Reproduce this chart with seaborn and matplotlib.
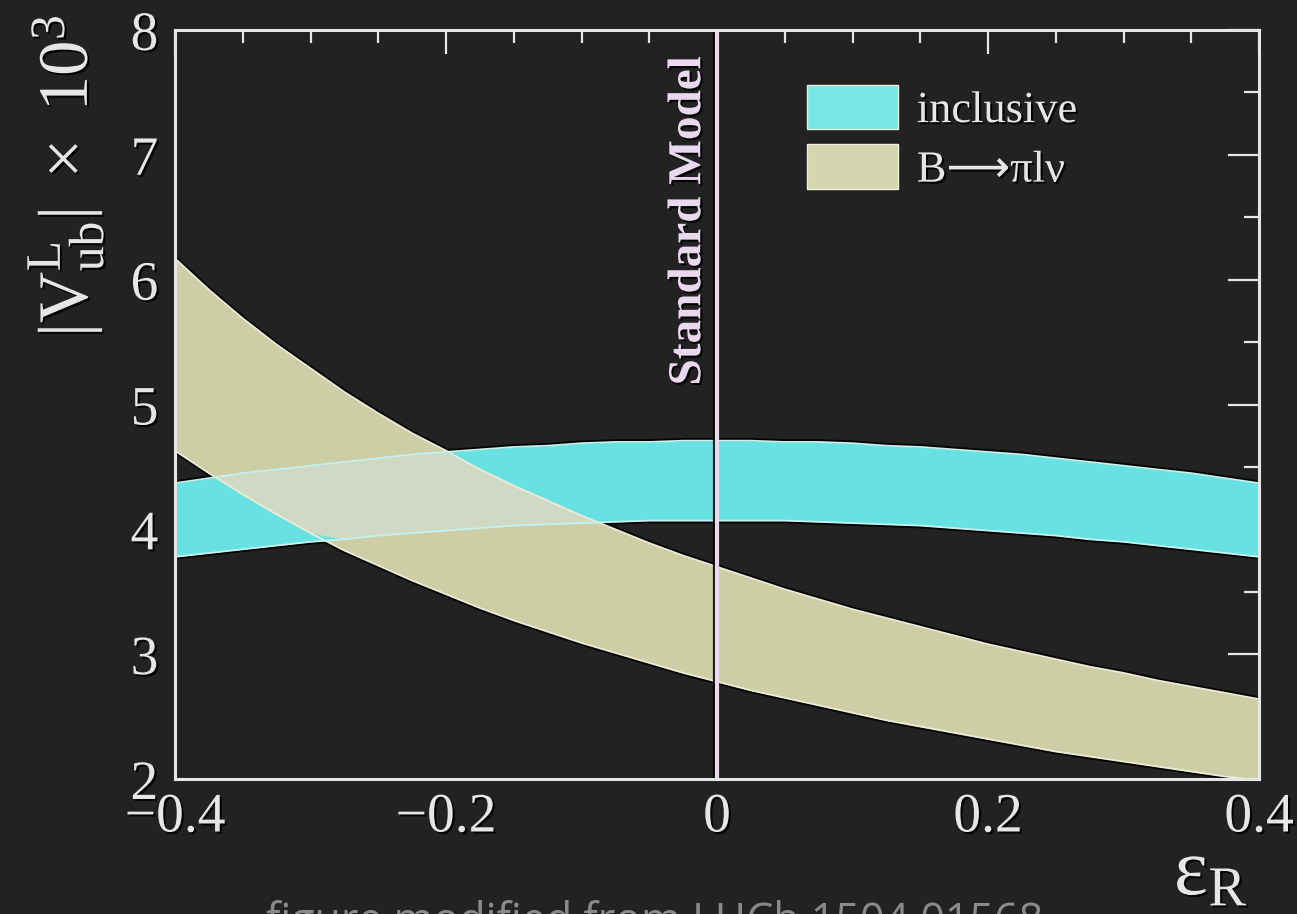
import numpy as np
import pandas as pd
import matplotlib
matplotlib.use("Agg")
import matplotlib.pyplot as plt
import matplotlib.patheffects as pe
from matplotlib.ticker import MultipleLocator
import seaborn as sns

# values
eps_r = [-0.4, -0.375, -0.35, -0.325, -0.3, -0.275, -0.25, -0.225, -0.2, -0.175,
         -0.15, -0.125, -0.1, -0.075, -0.05, -0.025, 0.0, 0.025, 0.05, 0.075,
         0.1, 0.125, 0.15, 0.175, 0.2, 0.225, 0.25, 0.275, 0.3, 0.325, 0.35, 0.375, 0.4]
incl_lo = [3.78, 3.81, 3.84, 3.87, 3.90, 3.92, 3.95, 3.97, 3.99, 4.01,
           4.03, 4.04, 4.05, 4.06, 4.07, 4.07, 4.07, 4.07, 4.07, 4.06,
           4.05, 4.04, 4.03, 4.01, 3.99, 3.97, 3.95, 3.92, 3.90, 3.87, 3.84, 3.81, 3.78]
incl_hi = [4.37, 4.41, 4.45, 4.48, 4.51, 4.54, 4.57, 4.60, 4.62, 4.64,
           4.66, 4.67, 4.69, 4.70, 4.70, 4.71, 4.71, 4.71, 4.70, 4.70,
           4.69, 4.67, 4.66, 4.64, 4.62, 4.60, 4.57, 4.54, 4.51, 4.48, 4.45, 4.41, 4.37]
bpi_lo = [4.63, 4.45, 4.28, 4.12, 3.97, 3.83, 3.71, 3.59, 3.48, 3.37,
          3.27, 3.18, 3.09, 3.01, 2.93, 2.85, 2.78, 2.71, 2.65, 2.59,
          2.53, 2.47, 2.42, 2.37, 2.32, 2.27, 2.22, 2.18, 2.14, 2.10, 2.06, 2.02, 1.99]
bpi_hi = [6.17, 5.92, 5.69, 5.48, 5.29, 5.10, 4.93, 4.77, 4.63, 4.48,
          4.35, 4.23, 4.11, 4.00, 3.89, 3.79, 3.70, 3.61, 3.52, 3.44,
          3.36, 3.29, 3.22, 3.15, 3.08, 3.02, 2.96, 2.90, 2.85, 2.79, 2.74, 2.69, 2.64]
x_ticks = [-0.4, -0.2, 0.0, 0.2, 0.4]
x_ticklabels = ["\u22120.4", "\u22120.2", "0", "0.2", "0.4"]
y_ticks = [2, 3, 4, 5, 6, 7, 8]

bg = "#222222"
fg = "#e6e6e6"
cyan = "#67e1e1"
beige = "#cdcda6"
overlap = "#cfd9c4"

sns.set_theme(style="dark", rc={"figure.facecolor": bg, "axes.facecolor": bg,
                                "savefig.facecolor": bg, "axes.edgecolor": fg,
                                "text.color": fg, "xtick.color": fg, "ytick.color": fg})
plt.rcParams["font.family"] = ["Liberation Serif", "DejaVu Sans"]
plt.rcParams["mathtext.fontset"] = "custom"
plt.rcParams["mathtext.rm"] = "Liberation Serif"
plt.rcParams["mathtext.it"] = "Liberation Serif:italic"
plt.rcParams["mathtext.bf"] = "Liberation Serif:bold"

df = pd.DataFrame({"eps": eps_r, "incl_lo": incl_lo, "incl_hi": incl_hi,
                   "bpi_lo": bpi_lo, "bpi_hi": bpi_hi})

fig = plt.figure(figsize=(12.97, 9.14), dpi=100)
ax = fig.add_axes([175 / 1297, 1 - 779 / 914, (1259 - 175) / 1297, (779 - 30) / 914])

txt_shadow = [pe.withSimplePatchShadow(offset=(1.5, -1.5), shadow_rgbFace="black", alpha=0.9)]

# dark halo under the band edges
for col in ["incl_lo", "incl_hi", "bpi_lo", "bpi_hi"]:
    ax.plot(df["eps"], df[col], color="black", lw=4, zorder=1, alpha=0.85)

ax.fill_between(df["eps"], df["bpi_lo"], df["bpi_hi"], color=beige, lw=0, zorder=2,
                label="B\u27f6\u03c0l\u03bd")
ax.fill_between(df["eps"], df["incl_lo"], df["incl_hi"], color=cyan, lw=0, zorder=2,
                label="inclusive")
ov_lo = np.maximum(df["incl_lo"], df["bpi_lo"])
ov_hi = np.minimum(df["incl_hi"], df["bpi_hi"])
ax.fill_between(df["eps"], ov_lo, ov_hi, where=ov_hi > ov_lo, interpolate=True,
                color=overlap, lw=0, zorder=3)

for col, c in [("bpi_lo", "#ececd8"), ("bpi_hi", "#ececd8"),
               ("incl_lo", "#c6f2ee"), ("incl_hi", "#c6f2ee")]:
    sns.lineplot(data=df, x="eps", y=col, color=c, lw=1.3, ax=ax, zorder=4)

ax.axvline(0, color="#ead8ee", lw=3, zorder=5,
           path_effects=[pe.SimpleLineShadow(offset=(-1.5, 0), shadow_color="black", alpha=0.9), pe.Normal()])
ax.text(-0.005, 7.79, "Standard Model", rotation=90, ha="right", va="top",
        fontsize=34, fontweight="bold", color="#ead8ee", zorder=6, path_effects=txt_shadow)

ax.set_xlim(-0.4, 0.4)
ax.set_ylim(2, 8)
ax.set_xlabel("")
ax.set_ylabel("")
ax.set_xticks(x_ticks)
ax.set_xticklabels(x_ticklabels)
ax.set_yticks(y_ticks)
ax.xaxis.set_minor_locator(MultipleLocator(0.05))
ax.yaxis.set_minor_locator(MultipleLocator(0.5))
ax.tick_params(axis="both", which="both", direction="in", top=True, right=True,
               width=1.6, color=fg, labelsize=40, labelcolor=fg)
ax.tick_params(axis="x", which="major", length=17, pad=9)
ax.tick_params(axis="x", which="minor", length=9)
ax.tick_params(axis="y", which="major", length=22, pad=12)
ax.tick_params(axis="y", which="minor", length=11)
for lab in ax.get_xticklabels() + ax.get_yticklabels():
    lab.set_path_effects(txt_shadow)
for s in ax.spines.values():
    s.set_color(fg)
    s.set_linewidth(2.2)
    s.set_zorder(7)
ax.grid(False)

handles, labels = ax.get_legend_handles_labels()
leg = ax.legend(handles[::-1], labels[::-1], loc="upper left",
                bbox_to_anchor=(807 / 1297, 1 - 85 / 914), bbox_transform=fig.transFigure,
                frameon=False, fontsize=32, handlelength=2.05, handleheight=1.15,
                handletextpad=0.42, labelspacing=0.3, borderpad=0, borderaxespad=0)
for t in leg.get_texts():
    t.set_color(fg)
    t.set_path_effects(txt_shadow)
for h, c in zip(leg.legend_handles, ["#79e7e7", "#d3d6ae"]):
    h.set_facecolor(c)
    h.set_edgecolor("#f0f0e0")
    h.set_linewidth(1)

fig.text(65 / 1297, 1 - 176 / 914, r"$|\mathrm{V}^{\mathrm{L}}_{\mathrm{ub}}|\ \times\ 10^{3}$",
         rotation=90, ha="center", va="center", fontsize=51, color=fg, path_effects=txt_shadow)
fig.text(1248 / 1297, 1 - 895 / 914, r"$\mathrm{\varepsilon}_{\mathrm{R}}$",
         ha="right", va="baseline", fontsize=58, color=fg, path_effects=txt_shadow)
fig.text(655 / 1297, 1 - 934 / 914, "figure modified from LHCb 1504.01568",
         ha="center", va="baseline", fontsize=31, color="#8a8a8a", family="Open Sans")

fig.savefig("out.png", dpi=100, facecolor=bg)
